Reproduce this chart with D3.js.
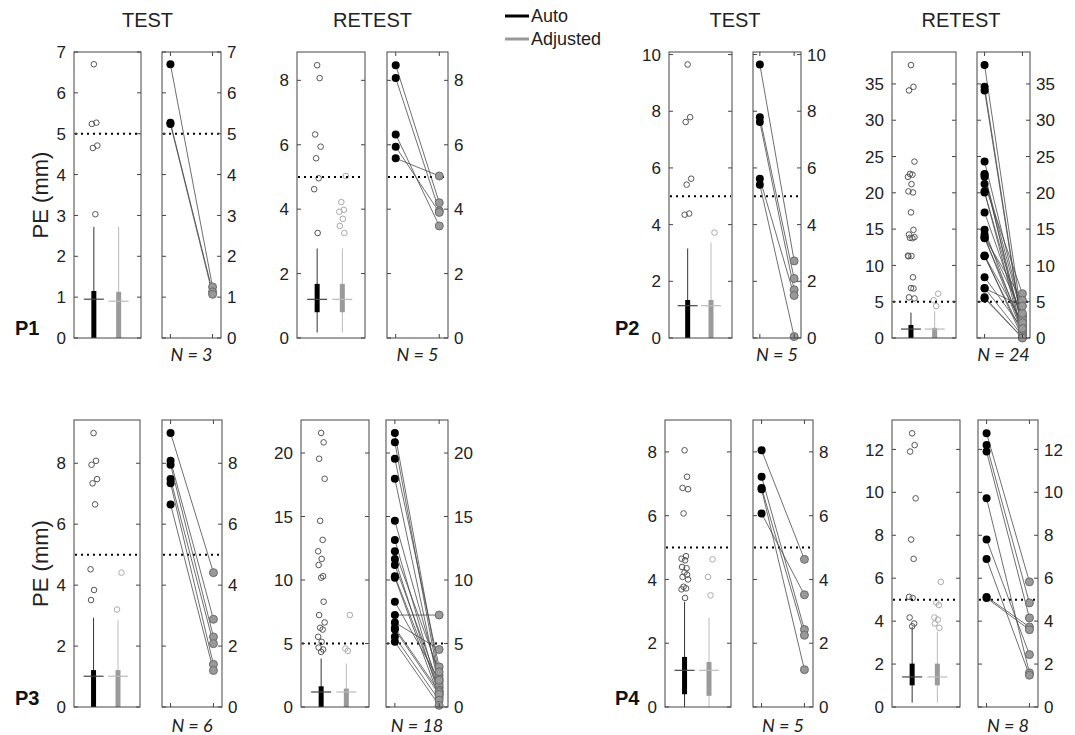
<!DOCTYPE html>
<html>
<head>
<meta charset="utf-8">
<script src="https://cdn.jsdelivr.net/npm/d3@7"></script>
<style>
  body { margin: 0; background: #fff; }
  text { font-family: "Liberation Sans", Arial, sans-serif; fill: #222; }
</style>
</head>
<body>
<script>
// PE (mm) per participant, Auto vs Adjusted, test and retest sessions

// box stats are [lower whisker, q1, median, q3, upper whisker]
// ---- P1 TEST
var p1TestTicks = [0, 1, 2, 3, 4, 5, 6, 7];
var p1TestAutoBox = [0, 0, 0.95, 1.15, 2.72];
var p1TestAdjBox = [0, 0, 0.9, 1.13, 2.72];
var p1TestAutoOut = [6.7, 5.27, 5.24, 4.71, 4.65, 3.03];
var p1TestAdjOut = [];
var p1TestPairAuto = [6.7, 5.27, 5.24];
var p1TestPairAdj = [1.25, 1.13, 1.07];

// ---- P1 RETEST
var p1RetestTicks = [0, 2, 4, 6, 8];
var p1RetestAutoBox = [0.17, 0.8, 1.2, 1.68, 2.78];
var p1RetestAdjBox = [0.17, 0.8, 1.2, 1.68, 2.78];
var p1RetestAutoOut = [8.47, 8.07, 6.32, 5.94, 5.58, 4.96, 4.62, 3.26];
var p1RetestAdjOut = [5.03, 4.22, 3.98, 3.92, 3.7, 3.48, 3.26];
var p1RetestPairAuto = [8.47, 8.07, 6.32, 5.94, 5.58];
var p1RetestPairAdj = [4.2, 3.95, 3.48, 3.9, 5.03];

// ---- P2 TEST
var p2TestTicks = [0, 2, 4, 6, 8, 10];
var p2TestAutoBox = [0, 0, 1.14, 1.34, 3.16];
var p2TestAdjBox = [0, 0, 1.14, 1.34, 3.37];
var p2TestAutoOut = [9.65, 7.79, 7.62, 5.62, 5.41, 4.39, 4.35];
var p2TestAdjOut = [3.72];
var p2TestPairAuto = [9.65, 7.79, 7.62, 5.62, 5.41];
var p2TestPairAdj = [2.72, 2.1, 1.7, 1.5, 0.05];

// ---- P2 RETEST
var p2RetestTicks = [0, 5, 10, 15, 20, 25, 30, 35];
var p2RetestAutoBox = [0, 0, 1.23, 1.8, 3.5];
var p2RetestAdjBox = [0, 0, 1.23, 1.4, 3.7];
var p2RetestAutoOut = [37.6, 34.6, 34.1, 24.3, 22.6, 22.5, 22.2, 21.2, 20.2, 20.05, 17.3, 14.9,
                       14.25, 13.9, 13.8, 13.75, 11.35, 11.3, 11.25, 8.36, 6.88, 6.82, 5.6, 5.45];
var p2RetestAdjOut = [6.1, 5.2, 4.4];
var p2RetestPairAuto = [37.6, 34.6, 34.1, 24.3, 22.6, 22.5, 22.2, 21.2, 20.2, 20.05, 17.3, 14.9,
                        14.25, 13.9, 13.8, 13.75, 11.35, 11.3, 11.25, 8.36, 6.88, 6.82, 5.6, 5.45];
var p2RetestPairAdj = [2.3, 1.2, 0.9, 3.1, 0.4, 2.8, 1.5, 6.1, 0.2, 1.9, 2.5, 1.0,
                       3.4, 0.7, 5.2, 1.7, 0.1, 2.1, 0.6, 1.3, 0.3, 4.4, 0.05, 0];

// ---- P3 TEST
var p3TestTicks = [0, 2, 4, 6, 8];
var p3TestAutoBox = [0, 0, 1.01, 1.21, 2.93];
var p3TestAdjBox = [0, 0, 1.01, 1.21, 2.85];
var p3TestAutoOut = [8.99, 8.08, 7.95, 7.48, 7.34, 6.65, 4.52, 3.84, 3.51];
var p3TestAdjOut = [4.41, 3.2];
var p3TestPairAuto = [8.99, 8.08, 7.95, 7.48, 7.34, 6.65];
var p3TestPairAdj = [4.41, 2.88, 2.3, 2.08, 1.4, 1.2];

// ---- P3 RETEST
var p3RetestTicks = [0, 5, 10, 15, 20];
var p3RetestAutoBox = [0, 0, 1.18, 1.63, 3.82];
var p3RetestAdjBox = [0, 0, 1.18, 1.45, 3.42];
var p3RetestAutoOut = [21.58, 20.84, 19.55, 17.97, 14.66, 13.16, 12.26, 11.66, 11.18, 10.3, 10.18,
                       8.29, 7.24, 6.66, 6.24, 6.1, 5.53, 5.13, 4.68, 4.53, 4.34];
var p3RetestAdjOut = [7.24, 4.6, 4.42];
var p3RetestPairAuto = [21.58, 20.84, 19.55, 17.97, 14.66, 13.16, 12.26, 11.66, 11.18, 10.3, 10.18,
                        8.29, 7.24, 6.66, 6.24, 6.1, 5.53, 5.13];
var p3RetestPairAdj = [2.5, 1.97, 3.16, 1.53, 2.24, 1.1, 2.76, 0.92, 1.71, 1.32, 0.74,
                       2.1, 7.24, 4.53, 1.2, 1.0, 0.53, 0.13];

// ---- P4 TEST
var p4TestTicks = [0, 2, 4, 6, 8];
var p4TestAutoBox = [0, 0.4, 1.15, 1.57, 3.3];
var p4TestAdjBox = [0, 0.35, 1.15, 1.41, 2.8];
var p4TestAutoOut = [8.05, 7.22, 6.87, 6.83, 6.07, 4.73, 4.65, 4.6, 4.39, 4.35, 4.22, 4.15,
                     4.08, 4.0, 3.77, 3.72, 3.69, 3.42];
var p4TestAdjOut = [4.63, 4.08, 3.5];
var p4TestPairAuto = [8.05, 7.22, 6.87, 6.83, 6.07];
var p4TestPairAdj = [4.63, 2.43, 2.25, 1.17, 3.52];

// ---- P4 RETEST
var p4RetestTicks = [0, 2, 4, 6, 8, 10, 12];
var p4RetestAutoBox = [0.2, 1.01, 1.4, 2.02, 3.73];
var p4RetestAdjBox = [0.2, 1.01, 1.4, 2.02, 3.5];
var p4RetestAutoOut = [12.75, 12.2, 11.9, 9.72, 7.8, 6.9, 5.13, 5.08, 4.17, 3.89, 3.76];
var p4RetestAdjOut = [5.83, 4.87, 4.75, 4.17, 4.07, 3.89, 3.69];
var p4RetestPairAuto = [12.75, 12.2, 11.9, 9.72, 7.8, 6.9, 5.13, 5.08];
var p4RetestPairAdj = [5.83, 4.85, 4.15, 1.59, 2.44, 1.48, 3.73, 3.6];

var threshold = 5;

// table of panels (data + where each one sits on the page)
var panels = [
  {row: 0, label: "P1", title: "TEST", ymax: 7.0, ticks: p1TestTicks, autoBox: p1TestAutoBox, adjBox: p1TestAdjBox,
   autoOut: p1TestAutoOut, adjOut: p1TestAdjOut, pairAuto: p1TestPairAuto, pairAdj: p1TestPairAdj, bx: [74, 141], px: [162, 221]},
  {row: 0, title: "RETEST", ymax: 8.88, ticks: p1RetestTicks, autoBox: p1RetestAutoBox, adjBox: p1RetestAdjBox,
   autoOut: p1RetestAutoOut, adjOut: p1RetestAdjOut, pairAuto: p1RetestPairAuto, pairAdj: p1RetestPairAdj, bx: [297, 365], px: [387, 448]},
  {row: 0, label: "P2", title: "TEST", ymax: 10.09, ticks: p2TestTicks, autoBox: p2TestAutoBox, adjBox: p2TestAdjBox,
   autoOut: p2TestAutoOut, adjOut: p2TestAdjOut, pairAuto: p2TestPairAuto, pairAdj: p2TestPairAdj, bx: [669, 732], px: [753, 801]},
  {row: 0, title: "RETEST", ymax: 39.4, ticks: p2RetestTicks, autoBox: p2RetestAutoBox, adjBox: p2RetestAdjBox,
   autoOut: p2RetestAutoOut, adjOut: p2RetestAdjOut, pairAuto: p2RetestPairAuto, pairAdj: p2RetestPairAdj, bx: [892, 956], px: [977, 1030]},
  {row: 1, label: "P3", ymax: 9.42, ticks: p3TestTicks, autoBox: p3TestAutoBox, adjBox: p3TestAdjBox,
   autoOut: p3TestAutoOut, adjOut: p3TestAdjOut, pairAuto: p3TestPairAuto, pairAdj: p3TestPairAdj, bx: [74, 140], px: [162, 222]},
  {row: 1, ymax: 22.6, ticks: p3RetestTicks, autoBox: p3RetestAutoBox, adjBox: p3RetestAdjBox,
   autoOut: p3RetestAutoOut, adjOut: p3RetestAdjOut, pairAuto: p3RetestPairAuto, pairAdj: p3RetestPairAdj, bx: [301, 369], px: [386, 448]},
  {row: 1, label: "P4", ymax: 9.0, ticks: p4TestTicks, autoBox: p4TestAutoBox, adjBox: p4TestAdjBox,
   autoOut: p4TestAutoOut, adjOut: p4TestAdjOut, pairAuto: p4TestPairAuto, pairAdj: p4TestPairAdj, bx: [665, 731], px: [753, 813]},
  {row: 1, ymax: 13.37, ticks: p4RetestTicks, autoBox: p4RetestAutoBox, adjBox: p4RetestAdjBox,
   autoOut: p4RetestAutoOut, adjOut: p4RetestAdjOut, pairAuto: p4RetestPairAuto, pairAdj: p4RetestPairAdj, bx: [892, 960], px: [978, 1038]}
];

var rows = [{top: 52, bottom: 338}, {top: 420, bottom: 707}];

var svg = d3.select("body").append("svg")
    .attr("width", 1075)
    .attr("height", 735);

// small fixed horizontal spread for the outlier circles
var jit = [0, 2.5, -2, 3.5, -1, 1.5, -3, 0.5, -2.5, 2];

var autoCol = {whisker: "#333", box: "#000", med: "#444", out: "#555"},
    adjCol = {whisker: "#bbb", box: "#9a9a9a", med: "#bbb", out: "#aaa"};

panels.forEach(function(p) {
  var r = rows[p.row];
  var y = d3.scaleLinear().domain([0, p.ymax]).range([r.bottom, r.top]);
  var xb = d3.scaleLinear().domain([0.2, 2.9]).range(p.bx);
  var xp = d3.scaleLinear().domain([0.8, 2.2]).range(p.px);

  var g = svg.append("g");

  // ---------- box panel
  var gb = g.append("g");
  drawBox(gb, xb(1), y, p.autoBox, autoCol);
  drawBox(gb, xb(2), y, p.adjBox, adjCol);

  gb.selectAll(".oa").data(p.autoOut).enter().append("circle")
    .attr("cx", function(d, i) { return xb(1) + jit[i % jit.length]; })
    .attr("cy", function(d) { return y(d); })
    .attr("r", 2.8)
    .style("fill", "none").style("stroke", autoCol.out).style("stroke-width", 1);

  gb.selectAll(".ob").data(p.adjOut).enter().append("circle")
    .attr("cx", function(d, i) { return xb(2) + jit[(i + 3) % jit.length]; })
    .attr("cy", function(d) { return y(d); })
    .attr("r", 2.8)
    .style("fill", "none").style("stroke", adjCol.out).style("stroke-width", 1);

  dotted(g, p.bx, y(threshold));
  frame(g, p.bx, r, y, p.ticks, "left", null);

  // ---------- paired panel
  var pairs = p.pairAuto.map(function(a, i) { return [a, p.pairAdj[i]]; });
  dotted(g, p.px, y(threshold));

  g.selectAll(".pl").data(pairs).enter().append("line")
    .attr("x1", xp(1)).attr("x2", xp(2))
    .attr("y1", function(d) { return y(d[0]); })
    .attr("y2", function(d) { return y(d[1]); })
    .style("stroke", "#4a4a4a").style("stroke-width", 0.8);

  g.selectAll(".pb").data(p.pairAdj).enter().append("circle")
    .attr("cx", xp(2)).attr("cy", function(d) { return y(d); })
    .attr("r", 4)
    .style("fill", "#999").style("stroke", "#6a6a6a").style("stroke-width", 1);

  g.selectAll(".pa").data(p.pairAuto).enter().append("circle")
    .attr("cx", xp(1)).attr("cy", function(d) { return y(d); })
    .attr("r", 4)
    .style("fill", "#000");

  frame(g, p.px, r, y, p.ticks, "right", [xp(1), xp(2)]);

  svg.append("text")
    .attr("x", (p.px[0] + p.px[1]) / 2)
    .attr("y", p.row === 0 ? 361 : 732)
    .style("text-anchor", "middle")
    .style("font-family", "Lato, 'Open Sans', sans-serif")
    .style("font-style", "italic")
    .style("font-size", "18px")
    .text("N = " + p.pairAuto.length);

  if (p.title) {
    svg.append("text")
      .attr("x", (p.bx[0] + p.px[1]) / 2)
      .attr("y", 27)
      .style("text-anchor", "middle")
      .style("font-size", "20px")
      .text(p.title);
  }

  if (p.label) {
    svg.append("text")
      .attr("x", p.bx[0] < 200 ? 15 : 615)
      .attr("y", p.row === 0 ? 335 : 705)
      .style("font-size", "20px")
      .style("font-weight", "bold")
      .style("fill", "#111")
      .text(p.label);
    if (p.bx[0] < 200) {
      var cy = (r.top + r.bottom) / 2;
      svg.append("text")
        .attr("transform", "translate(48," + cy + ") rotate(-90)")
        .style("text-anchor", "middle")
        .style("font-size", "22px")
        .text("PE (mm)");
    }
  }
});

function drawBox(g, cx, y, s, col) {
  g.append("line")
    .attr("x1", cx).attr("x2", cx)
    .attr("y1", y(s[0])).attr("y2", y(s[4]))
    .style("stroke", col.whisker).style("stroke-width", 1);
  g.append("line")
    .attr("x1", cx).attr("x2", cx)
    .attr("y1", y(s[1])).attr("y2", y(s[3]))
    .style("stroke", col.box).style("stroke-width", 5);
  g.append("line")
    .attr("x1", cx - 10).attr("x2", cx + 10)
    .attr("y1", y(s[2])).attr("y2", y(s[2]))
    .style("stroke", col.med).style("stroke-width", 1.2);
}

function dotted(g, xr, yy) {
  g.append("line")
    .attr("x1", xr[0] + 1).attr("x2", xr[1] - 1)
    .attr("y1", yy).attr("y2", yy)
    .style("stroke", "#000").style("stroke-width", 2)
    .style("stroke-dasharray", "2,4");
}

// frame with inward ticks on both sides, labels on one side
function frame(g, xr, r, y, ticks, side, xticks) {
  var tl = 4;
  g.append("rect")
    .attr("x", xr[0]).attr("y", r.top)
    .attr("width", xr[1] - xr[0]).attr("height", r.bottom - r.top)
    .style("fill", "none").style("stroke", "#444").style("stroke-width", 1);

  var tk = g.append("g");
  ticks.forEach(function(t) {
    tk.append("line").attr("x1", xr[0]).attr("x2", xr[0] + tl)
      .attr("y1", y(t)).attr("y2", y(t)).style("stroke", "#444");
    tk.append("line").attr("x1", xr[1]).attr("x2", xr[1] - tl)
      .attr("y1", y(t)).attr("y2", y(t)).style("stroke", "#444");
  });
  if (xticks) {
    xticks.forEach(function(xx) {
      tk.append("line").attr("x1", xx).attr("x2", xx)
        .attr("y1", r.top).attr("y2", r.top + tl).style("stroke", "#444");
      tk.append("line").attr("x1", xx).attr("x2", xx)
        .attr("y1", r.bottom).attr("y2", r.bottom - tl).style("stroke", "#444");
    });
  }

  g.selectAll(null).data(ticks).enter().append("text")
    .attr("x", side === "left" ? xr[0] - 8 : xr[1] + 6)
    .attr("y", function(d) { return y(d); })
    .attr("dy", "0.36em")
    .style("text-anchor", side === "left" ? "end" : "start")
    .style("font-size", "17px")
    .text(function(d) { return d; });
}

// legend
var legend = [{name: "Auto", color: "#000"}, {name: "Adjusted", color: "#999"}];
var lg = svg.append("g");
lg.selectAll("line").data(legend).enter().append("line")
  .attr("x1", 505).attr("x2", 529)
  .attr("y1", function(d, i) { return 16 + i * 23; })
  .attr("y2", function(d, i) { return 16 + i * 23; })
  .style("stroke", function(d) { return d.color; })
  .style("stroke-width", 3);
lg.selectAll("text").data(legend).enter().append("text")
  .attr("x", 531)
  .attr("y", function(d, i) { return 16 + i * 23; })
  .attr("dy", "0.36em")
  .style("font-size", "18px")
  .text(function(d) { return d.name; });
</script>
</body>
</html>
